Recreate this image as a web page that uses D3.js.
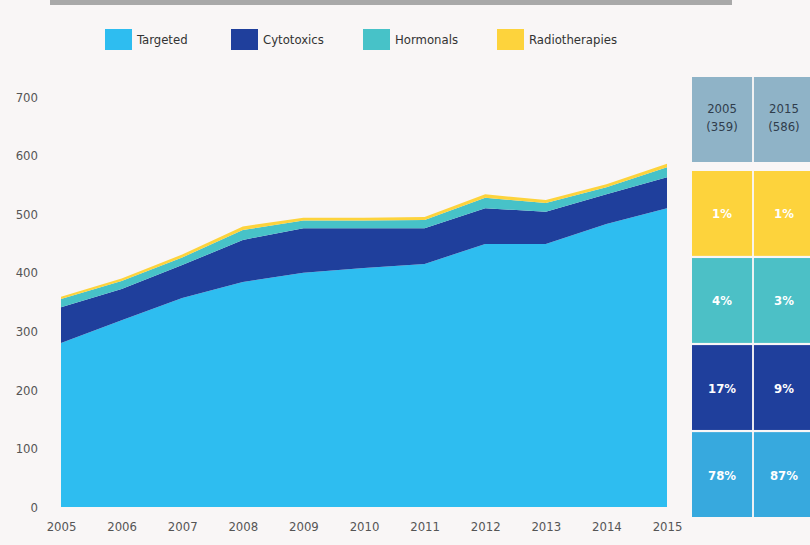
<!DOCTYPE html>
<html>
<head>
<meta charset="utf-8">
<script src="https://cdn.jsdelivr.net/npm/d3@7"></script>
<style>
  body { margin: 0; background: #f9f6f6; }
  svg { display: block; }
  text { font-family: "DejaVu Sans", sans-serif; font-stretch: condensed; }
</style>
</head>
<body>
<svg id="chart" width="810" height="545"></svg>
<script>
// data
var years = [2005, 2006, 2007, 2008, 2009, 2010, 2011, 2012, 2013, 2014, 2015];
var targeted = [280, 319, 357, 384, 400, 408, 415, 449, 449, 483, 510];
var cytotoxics = [61, 53, 56, 72, 76, 68, 61, 61, 55, 51, 53];
var hormonals = [14, 14, 13, 17, 13, 13, 14, 18, 15, 12, 17];
var radiotherapies = [4, 4, 5, 6, 5, 5, 5, 6, 5, 5, 6];
var seriesNames = ["Targeted", "Cytotoxics", "Hormonals", "Radiotherapies"];
var yTicks = [0, 100, 200, 300, 400, 500, 600, 700];

// share table (top row to bottom row)
var tableHeads = [["2005", "(359)"], ["2015", "(586)"]];
var tableRows = [
  {key: "Radiotherapies", vals: ["1%", "1%"]},
  {key: "Hormonals", vals: ["4%", "3%"]},
  {key: "Cytotoxics", vals: ["17%", "9%"]},
  {key: "Targeted", vals: ["78%", "87%"]}
];

var colors = {Targeted: "#2ebdf0", Cytotoxics: "#1f3f9c", Hormonals: "#47c2c8", Radiotherapies: "#fdd33c"};
var tableColors = {Targeted: "#37a9de", Cytotoxics: "#1f3f9c", Hormonals: "#4cc0c6", Radiotherapies: "#fdd33c"};

var svg = d3.select("#chart");

// top grey bar
svg.append("rect").attr("x", 50).attr("y", 0).attr("width", 682).attr("height", 5).attr("fill", "#a9a9a9");

var rows = years.map(function(y, i) {
  return {year: y, Targeted: targeted[i], Cytotoxics: cytotoxics[i], Hormonals: hormonals[i], Radiotherapies: radiotherapies[i]};
});

var x = d3.scaleLinear().domain([2005, 2015]).range([61, 667]);
var y = d3.scaleLinear().domain([0, 700]).range([507, 97]);

var stack = d3.stack().keys(seriesNames);
var layers = stack(rows);

var area = d3.area()
  .x(function(d) { return x(d.data.year); })
  .y0(function(d) { return y(d[0]); })
  .y1(function(d) { return y(d[1]); });

svg.append("g")
  .selectAll("path")
  .data(layers)
  .enter()
  .append("path")
  .attr("d", area)
  .attr("fill", function(d) { return colors[d.key]; });

// axes
var yAxis = d3.axisLeft(y).tickValues(yTicks).tickSize(0).tickPadding(0);
var gy = svg.append("g").attr("transform", "translate(38,0)").call(yAxis);
gy.select(".domain").remove();
gy.selectAll("text").attr("fill", "#555").style("font-size", "13px");

var xAxis = d3.axisBottom(x).tickValues(years).tickFormat(d3.format("d")).tickSize(0).tickPadding(0);
var gx = svg.append("g").attr("transform", "translate(0,522)").call(xAxis);
gx.select(".domain").remove();
gx.selectAll("text").attr("fill", "#555").style("font-size", "13px");

// legend
var legendX = [105, 231, 363, 497];
var legend = svg.append("g")
  .selectAll("g")
  .data(seriesNames)
  .enter()
  .append("g")
  .attr("transform", function(d, i) { return "translate(" + legendX[i] + ",29)"; });

legend.append("rect")
  .attr("width", 27)
  .attr("height", 21)
  .attr("fill", function(d) { return colors[d]; });

legend.append("text")
  .attr("x", 32)
  .attr("y", 15)
  .text(function(d) { return d; })
  .attr("fill", "#333")
  .style("font-size", "13px");

// share table
var colX = d3.scaleBand().domain([0, 1]).range([692, 814]).paddingInner(0.03);
var cellH = 85;

var header = svg.append("g");
tableHeads.forEach(function(h, i) {
  header.append("rect")
    .attr("x", colX(i)).attr("y", 77)
    .attr("width", colX.bandwidth()).attr("height", cellH)
    .attr("fill", "#8fb3c7");
  header.append("text")
    .attr("x", colX(i) + colX.bandwidth() / 2).attr("y", 113)
    .attr("text-anchor", "middle").attr("fill", "#2f3d4c").style("font-size", "13px")
    .text(h[0]);
  header.append("text")
    .attr("x", colX(i) + colX.bandwidth() / 2).attr("y", 131)
    .attr("text-anchor", "middle").attr("fill", "#2f3d4c").style("font-size", "13px")
    .text(h[1]);
});

var rowY = d3.scaleBand().domain(d3.range(tableRows.length)).range([171, 517]).paddingInner(0.025);

var trow = svg.append("g")
  .selectAll("g")
  .data(tableRows)
  .enter()
  .append("g")
  .attr("transform", function(d, i) { return "translate(0," + rowY(i) + ")"; });

trow.selectAll("rect")
  .data(function(d) { return d.vals.map(function(v) { return {key: d.key, v: v}; }); })
  .enter()
  .append("rect")
  .attr("x", function(d, i) { return colX(i); })
  .attr("width", colX.bandwidth())
  .attr("height", rowY.bandwidth())
  .attr("fill", function(d) { return tableColors[d.key]; });

trow.selectAll("text")
  .data(function(d) { return d.vals; })
  .enter()
  .append("text")
  .attr("x", function(d, i) { return colX(i) + colX.bandwidth() / 2; })
  .attr("y", rowY.bandwidth() / 2 + 5)
  .attr("text-anchor", "middle")
  .attr("fill", "#ffffff")
  .style("font-size", "13px")
  .style("font-weight", "bold")
  .text(function(d) { return d; });
</script>
</body>
</html>
